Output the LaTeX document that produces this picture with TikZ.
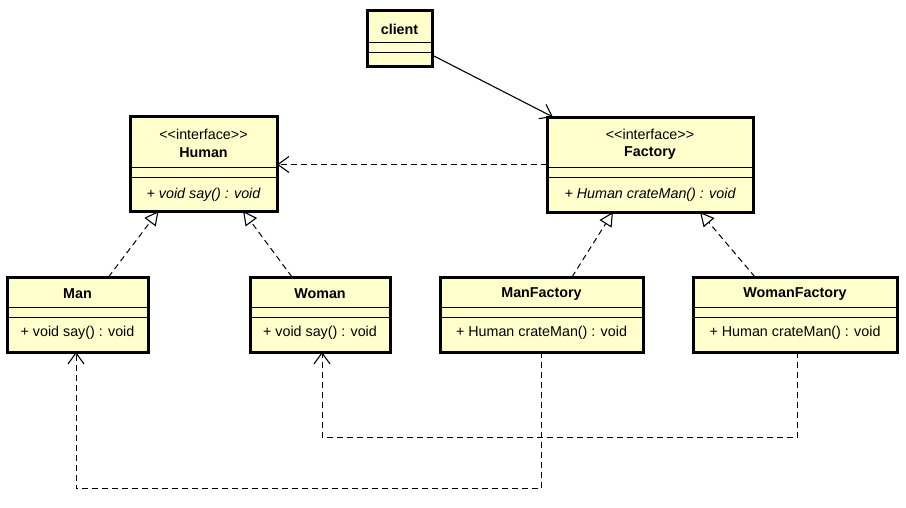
\documentclass[tikz,border=0pt]{standalone}
\usepackage{fontspec}
\setmainfont{Liberation Sans}
\usetikzlibrary{arrows.meta}
\definecolor{clsfill}{HTML}{FFFFCC}
\tikzset{
  cls/.style={draw=black, line width=3pt, fill=clsfill, inner sep=0pt, outer sep=0pt, anchor=north west},
  sep/.style={draw=black, line width=1pt},
  txt/.style={inner sep=0pt, font=\fontsize{14.3}{17}\selectfont},
  nm/.style={txt, font=\fontsize{14.3}{17}\selectfont\bfseries},
  dep/.style={draw=black, line width=1pt, dash pattern=on 6pt off 4pt, -{Straight Barb[length=11pt,width=16pt,line width=1.1pt]}},
  real/.style={draw=black, line width=1pt, dash pattern=on 6pt off 4pt, -{Triangle[open,length=14pt,width=14pt,line width=1.1pt,fill=white]}},
  assoc/.style={draw=black, line width=1.1pt, -{Straight Barb[length=11pt,width=16pt,line width=1.1pt]}}
}
\newcommand{\lt}{\textless\kern0pt\textless}
\newcommand{\gt}{\textgreater\kern0pt\textgreater}
\begin{document}
\begin{tikzpicture}[x=1pt,y=-1pt]
\useasboundingbox[fill=white] (0,0) rectangle (906,507);

% client
\node[cls, minimum width=65pt, minimum height=56pt] (client) at (367,10) {};
\draw[sep] (client.west |- 0,42) -- (client.east |- 0,42);
\draw[sep] (client.west |- 0,52) -- (client.east |- 0,52);
\node[nm] (clientname) at (399.5,29) {client};

% Human
\node[cls, minimum width=147pt, minimum height=95pt] (human) at (130,116) {};
\draw[sep] (human.west |- 0,167) -- (human.east |- 0,167);
\draw[sep] (human.west |- 0,177) -- (human.east |- 0,177);
\node[txt] (humanst) at (203.5,134) {\lt interface\gt};
\node[nm] (humanname) at (203.5,153) {Human};
\node[txt, font=\fontsize{14.3}{17}\selectfont\itshape] (humanop) at (203.5,195) {+ void say() : void};

% Factory
\node[cls, minimum width=206pt, minimum height=95pt] (factory) at (547,117) {};
\draw[sep] (factory.west |- 0,167) -- (factory.east |- 0,167);
\draw[sep] (factory.west |- 0,177) -- (factory.east |- 0,177);
\node[txt] (factoryst) at (650,134) {\lt interface\gt};
\node[nm] (factoryname) at (650,153) {Factory};
\node[txt, font=\fontsize{14.3}{17}\selectfont\itshape] (factoryop) at (650,195) {+ Human crateMan() : void};

% Man
\node[cls, minimum width=141pt, minimum height=75pt] (man) at (7,277) {};
\draw[sep] (man.west |- 0,307) -- (man.east |- 0,307);
\draw[sep] (man.west |- 0,317) -- (man.east |- 0,317);
\node[nm] (manname) at (77.5,294) {Man};
\node[txt] (manop) at (77.5,333) {+ void say() : void};

% Woman
\node[cls, minimum width=140pt, minimum height=75pt] (woman) at (250,277) {};
\draw[sep] (woman.west |- 0,307) -- (woman.east |- 0,307);
\draw[sep] (woman.west |- 0,317) -- (woman.east |- 0,317);
\node[nm] (womanname) at (320,294) {Woman};
\node[txt] (womanop) at (320,333) {+ void say() : void};

% ManFactory
\node[cls, minimum width=203pt, minimum height=75pt] (manfactory) at (440,277) {};
\draw[sep] (manfactory.west |- 0,307) -- (manfactory.east |- 0,307);
\draw[sep] (manfactory.west |- 0,317) -- (manfactory.east |- 0,317);
\node[nm] (manfactoryname) at (541.5,294) {ManFactory};
\node[txt] (manfactoryop) at (541.5,333) {+ Human crateMan() : void};

% WomanFactory
\node[cls, minimum width=204pt, minimum height=75pt] (womanfactory) at (693,277) {};
\draw[sep] (womanfactory.west |- 0,307) -- (womanfactory.east |- 0,307);
\draw[sep] (womanfactory.west |- 0,317) -- (womanfactory.east |- 0,317);
\node[nm] (womanfactoryname) at (795,294) {WomanFactory};
\node[txt] (womanfactoryop) at (795,333) {+ Human crateMan() : void};

% connectors
\draw[assoc] ([yshift=11pt]client.south east) -- ([xshift=6pt]factory.north west);
\draw[dep] (factory.west) -- (human.east |- factory.west);
\draw[real] ([xshift=31pt]man.north) -- ([xshift=-45pt]human.south);
\draw[real] ([xshift=-28pt]woman.north) -- ([xshift=39.5pt]human.south);
\draw[real] ([xshift=30.5pt]manfactory.north) -- ([xshift=-37pt]factory.south);
\draw[real] ([xshift=-40pt]womanfactory.north) -- ([xshift=50pt]factory.south);
\draw[dep] (manfactory.south) -- ++(0,136.5) -| ([xshift=-1.5pt]man.south);
\draw[dep] ([xshift=2pt]womanfactory.south) -- ++(0,85.5) -| ([xshift=2pt]woman.south);
\end{tikzpicture}
\end{document}
